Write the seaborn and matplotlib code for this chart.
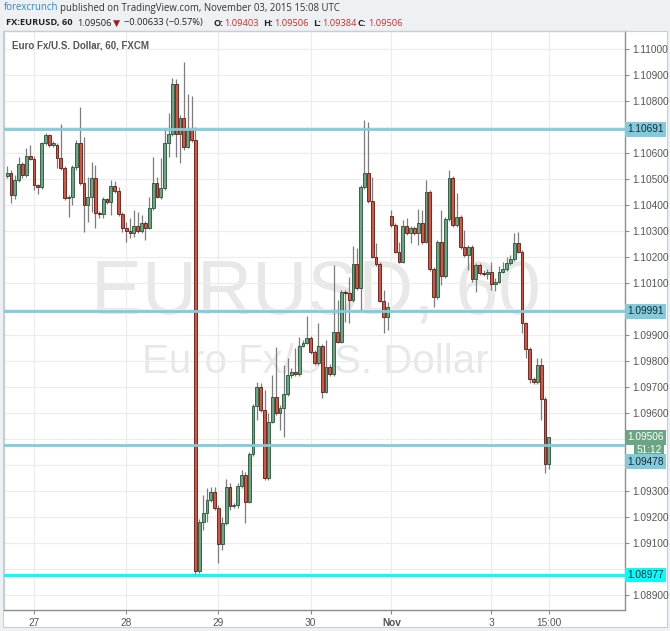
import numpy as np
import pandas as pd
import matplotlib
matplotlib.use("Agg")
import matplotlib.pyplot as plt
from matplotlib.patches import Rectangle
import seaborn as sns

# hourly EURUSD bars (FXCM), Oct 26 17:00 -> Oct 30 20:00, then Nov 1 22:00 -> Nov 3 15:00
opens = [
    1.10512, 1.10522, 1.10437, 1.10496, 1.10557, 1.10514, 1.10588, 1.10578, 1.10476, 1.10468,
    1.10637, 1.10669, 1.10631, 1.10630, 1.10580, 1.10541, 1.10426, 1.10430, 1.10545, 1.10640,
    1.10485, 1.10400, 1.10432, 1.10503, 1.10368, 1.10364, 1.10422, 1.10410, 1.10473, 1.10454,
    1.10364, 1.10313, 1.10300, 1.10291, 1.10319, 1.10300, 1.10330, 1.10313, 1.10387, 1.10486,
    1.10432, 1.10464, 1.10637, 1.10673, 1.10864, 1.10673, 1.10736, 1.10624, 1.10692, 1.10650,
    1.08994, 1.09182, 1.09214, 1.09265, 1.09295, 1.09233, 1.09095, 1.09176, 1.09314, 1.09244,
    1.09246, 1.09319, 1.09362, 1.09259, 1.09442, 1.09627, 1.09701, 1.09612, 1.09351, 1.09567,
    1.09663, 1.09599, 1.09618, 1.09672, 1.09746, 1.09759, 1.09750, 1.09859, 1.09870, 1.09887,
    1.09836, 1.09791, 1.09858, 1.09682, 1.09778, 1.09750, 1.09913, 1.09874, 1.10067, 1.10063,
    1.10035, 1.10173, 1.10080, 1.10468, 1.10524, 1.10417, 1.10201, 1.10173, 1.10032, 1.09970,
    1.10358, 1.10323, 1.10220, 1.10182, 1.10319, 1.10291, 1.10310, 1.10291, 1.10332, 1.10259,
    1.10449, 1.10153, 1.10045, 1.10259, 1.10127, 1.10345, 1.10503, 1.10323, 1.10353, 1.10237,
    1.10208, 1.10237, 1.10114, 1.10169, 1.10137, 1.10135, 1.10143, 1.10095, 1.10105, 1.10143,
    1.10153, 1.10176, 1.10191, 1.10253, 1.10220, 1.09945, 1.09846, 1.09731, 1.09718, 1.09785,
    1.09654, 1.09403,
]
closes = [
    1.10524, 1.10437, 1.10496, 1.10557, 1.10514, 1.10588, 1.10578, 1.10476, 1.10468, 1.10637,
    1.10669, 1.10631, 1.10637, 1.10582, 1.10541, 1.10426, 1.10430, 1.10545, 1.10640, 1.10485,
    1.10400, 1.10432, 1.10503, 1.10368, 1.10364, 1.10422, 1.10410, 1.10473, 1.10454, 1.10364,
    1.10313, 1.10300, 1.10291, 1.10319, 1.10300, 1.10330, 1.10313, 1.10387, 1.10486, 1.10432,
    1.10464, 1.10637, 1.10673, 1.10864, 1.10673, 1.10736, 1.10624, 1.10692, 1.10650, 1.08994,
    1.09182, 1.09214, 1.09265, 1.09295, 1.09233, 1.09095, 1.09176, 1.09314, 1.09244, 1.09246,
    1.09319, 1.09362, 1.09259, 1.09442, 1.09627, 1.09701, 1.09612, 1.09351, 1.09567, 1.09663,
    1.09599, 1.09618, 1.09672, 1.09746, 1.09759, 1.09750, 1.09859, 1.09870, 1.09887, 1.09836,
    1.09791, 1.09858, 1.09682, 1.09778, 1.09750, 1.09913, 1.09874, 1.10067, 1.10063, 1.10035,
    1.10173, 1.10080, 1.10468, 1.10524, 1.10417, 1.10201, 1.10173, 1.10032, 1.09970, 1.10007,
    1.10323, 1.10220, 1.10182, 1.10319, 1.10291, 1.10310, 1.10291, 1.10332, 1.10259, 1.10449,
    1.10153, 1.10045, 1.10259, 1.10127, 1.10345, 1.10503, 1.10323, 1.10353, 1.10237, 1.10208,
    1.10237, 1.10114, 1.10169, 1.10137, 1.10135, 1.10143, 1.10095, 1.10105, 1.10143, 1.10153,
    1.10176, 1.10191, 1.10253, 1.10220, 1.09945, 1.09846, 1.09731, 1.09718, 1.09785, 1.09654,
    1.09403, 1.09506,
]
highs = [
    1.10550, 1.10535, 1.10515, 1.10585, 1.10567, 1.10620, 1.10631, 1.10588, 1.10481, 1.10642,
    1.10677, 1.10673, 1.10646, 1.10638, 1.10710, 1.10550, 1.10438, 1.10554, 1.10650, 1.10778,
    1.10663, 1.10509, 1.10564, 1.10554, 1.10377, 1.10431, 1.10427, 1.10496, 1.10492, 1.10470,
    1.10373, 1.10336, 1.10349, 1.10381, 1.10374, 1.10362, 1.10338, 1.10432, 1.10586, 1.10509,
    1.10580, 1.10695, 1.10753, 1.10887, 1.10885, 1.10746, 1.10949, 1.10826, 1.10820, 1.10700,
    1.09192, 1.09285, 1.09310, 1.09317, 1.09317, 1.09246, 1.09201, 1.09346, 1.09330, 1.09254,
    1.09331, 1.09381, 1.09373, 1.09450, 1.09635, 1.09719, 1.09715, 1.09688, 1.09600, 1.09746,
    1.09855, 1.09631, 1.09785, 1.09812, 1.09773, 1.09849, 1.09893, 1.09881, 1.09973, 1.09896,
    1.09842, 1.09945, 1.09865, 1.09881, 1.09788, 1.10169, 1.10035, 1.10073, 1.10073, 1.10124,
    1.10242, 1.10233, 1.10477, 1.10727, 1.10720, 1.10509, 1.10253, 1.10181, 1.10073, 1.10028,
    1.10381, 1.10331, 1.10259, 1.10342, 1.10349, 1.10319, 1.10319, 1.10385, 1.10381, 1.10496,
    1.10458, 1.10162, 1.10265, 1.10381, 1.10354, 1.10535, 1.10512, 1.10445, 1.10362, 1.10304,
    1.10246, 1.10246, 1.10177, 1.10177, 1.10150, 1.10154, 1.10181, 1.10119, 1.10165, 1.10181,
    1.10201, 1.10208, 1.10291, 1.10297, 1.10227, 1.09950, 1.09854, 1.09738, 1.09810, 1.09810,
    1.09662, 1.09506,
]
lows = [
    1.10504, 1.10409, 1.10423, 1.10488, 1.10504, 1.10508, 1.10573, 1.10458, 1.10442, 1.10462,
    1.10631, 1.10623, 1.10623, 1.10541, 1.10535, 1.10419, 1.10354, 1.10400, 1.10535, 1.10477,
    1.10297, 1.10336, 1.10374, 1.10312, 1.10350, 1.10350, 1.10404, 1.10362, 1.10446, 1.10358,
    1.10297, 1.10259, 1.10272, 1.10278, 1.10292, 1.10292, 1.10265, 1.10308, 1.10381, 1.10427,
    1.10423, 1.10458, 1.10586, 1.10665, 1.10586, 1.10560, 1.10612, 1.10619, 1.10642, 1.08977,
    1.08985, 1.09150, 1.09182, 1.09258, 1.09227, 1.09024, 1.09073, 1.09169, 1.09227, 1.09235,
    1.09235, 1.09312, 1.09176, 1.09254, 1.09435, 1.09573, 1.09604, 1.09342, 1.09342, 1.09562,
    1.09592, 1.09535, 1.09509, 1.09665, 1.09735, 1.09742, 1.09742, 1.09854, 1.09865, 1.09827,
    1.09785, 1.09785, 1.09657, 1.09677, 1.09742, 1.09742, 1.09869, 1.09869, 1.09951, 1.09946,
    1.10027, 1.10073, 1.09996, 1.10462, 1.10408, 1.10196, 1.10165, 1.10027, 1.09907, 1.09919,
    1.10315, 1.10215, 1.10177, 1.10177, 1.10285, 1.10254, 1.10285, 1.10246, 1.10250, 1.10254,
    1.10146, 1.10009, 1.10038, 1.10092, 1.10119, 1.10338, 1.10315, 1.10315, 1.10231, 1.10200,
    1.10150, 1.10104, 1.10067, 1.10131, 1.10127, 1.10115, 1.10073, 1.10069, 1.10100, 1.10138,
    1.10146, 1.10169, 1.10185, 1.10215, 1.09907, 1.09810, 1.09715, 1.09712, 1.09712, 1.09573,
    1.09368, 1.09384,
]

times = pd.date_range("2015-10-26 17:00", "2015-10-30 20:00", freq="h").append(
    pd.date_range("2015-11-01 22:00", "2015-11-03 15:00", freq="h"))

tick_times = ["2015-10-27 00:00", "2015-10-28 00:00", "2015-10-29 00:00", "2015-10-30 00:00",
              "2015-11-01 22:00", "2015-11-03 00:00", "2015-11-03 15:00"]
tick_labels = ["27", "28", "29", "30", "Nov", "3", "15:00"]

price_ticks = [1.089, 1.090, 1.091, 1.092, 1.093, 1.094, 1.095, 1.096, 1.097, 1.098, 1.099,
               1.100, 1.101, 1.102, 1.103, 1.104, 1.105, 1.106, 1.107, 1.108, 1.109, 1.110]
# these labels sit under the price tags on the right
hidden_ticks = [1.090, 1.094, 1.095, 1.100, 1.107]

levels = [1.10691, 1.09991, 1.09478]
support = 1.08977
last_price = 1.09506
countdown = "51:12"

UP, DOWN = "#6ba583", "#d75442"
UP_EDGE, DOWN_EDGE = "#225437", "#5b1a13"
WICK = "#7d7d7f"
LEVEL = "#80cbdc"
CYAN = "#00ffff"

df = pd.DataFrame({"time": times, "open": opens, "high": highs, "low": lows, "close": closes})
df["x"] = np.arange(len(df))
df["up"] = df["close"] >= df["open"]

sns.set_style("white")
plt.rcParams["font.family"] = ["Liberation Sans", "DejaVu Sans"]

W, H = 670, 631
fig = plt.figure(figsize=(W / 100, H / 100), dpi=100)
fig.patch.set_facecolor("#eef1f4")


def fx(px):
    return px / W


def fy(py):
    return 1 - py / H


# white chart panel, behind the axes
fig.patches.append(Rectangle((fx(3), fy(627)), fx(667) - fx(3), fy(31) - fy(627),
                             transform=fig.transFigure, facecolor="white",
                             edgecolor="#c9ced2", lw=0.8, zorder=-10))

ax = fig.add_axes([fx(4), fy(610), fx(625) - fx(4), fy(31) - fy(610)])
ax.set_facecolor("white")

# watermark
ax.text(0.502, 0.545, "EURUSD, 60", transform=ax.transAxes, ha="center", va="center",
        fontsize=55, color="#e8e8e8", zorder=0.5)
ax.text(0.502, 0.428, "Euro Fx/U.S. Dollar", transform=ax.transAxes, ha="center", va="center",
        fontsize=29, color="#e8e8e8", zorder=0.5)

# candles
ax.vlines(df["x"], df["low"], df["high"], color=WICK, lw=0.9, zorder=2)
body_bottom = np.minimum(df["open"], df["close"])
body_height = np.maximum((df["close"] - df["open"]).abs(), 0.000012)
ax.bar(df["x"], body_height, bottom=body_bottom, width=0.74,
       color=np.where(df["up"], UP, DOWN), edgecolor=np.where(df["up"], UP_EDGE, DOWN_EDGE),
       linewidth=0.6, zorder=3)

# horizontal levels
for lv in levels:
    ax.axhline(lv, color=LEVEL, lw=2.0, zorder=4)
ax.axhline(support, color=CYAN, lw=2.2, zorder=4)

ax.set_xlim(-0.81, 160.8)
ax.set_ylim(1.088423, 1.110692)

tick_pos = [int(np.flatnonzero(df["time"] == pd.Timestamp(t))[0]) for t in tick_times]
ax.set_xticks(tick_pos)
ax.set_xticklabels(tick_labels)
for lab in ax.get_xticklabels():
    if lab.get_text() == "Nov":
        lab.set_fontweight("bold")
        lab.set_color("#333333")

ax.yaxis.tick_right()
ax.set_yticks(price_ticks)
ax.set_yticklabels(["" if any(abs(p - h) < 1e-9 for h in hidden_ticks) else f"{p:.5f}"
                    for p in price_ticks])
ax.tick_params(axis="both", direction="out", length=3, width=0.8, color="#8a8a8a",
               labelsize=7.3, labelcolor="#555555", pad=2)
ax.tick_params(axis="y", left=False, right=True)
ax.tick_params(axis="x", bottom=True, pad=3)

ax.grid(True, color="#ececec", lw=0.8)
ax.set_axisbelow(True)
for side, sp in ax.spines.items():
    sp.set_visible(True)
    sp.set_color("#8e8e8e" if side in ("right", "bottom") else "#c9ced2")
    sp.set_linewidth(1.0)


def price_tag(y, text, face, tcolor, x=1.0035, ha="left"):
    ax.text(x, y, text, transform=ax.get_yaxis_transform(), ha=ha, va="center",
            fontsize=7.3, color=tcolor, zorder=6, clip_on=False,
            bbox=dict(boxstyle="square,pad=0.22", facecolor=face, edgecolor="none"))


for lv in levels[:2]:
    price_tag(lv, f"{lv:.5f}", LEVEL, "#1f2a30")
price_tag(last_price, f"{last_price:.5f}", UP, "white")
price_tag(last_price - 0.0005, countdown, UP, "white", x=1.0585, ha="right")
price_tag(levels[2] - 0.00065, f"{levels[2]:.5f}", LEVEL, "#1f2a30")
price_tag(support, f"{support:.5f}", CYAN, "#1f2a30")

# legend line inside the chart
ax.text(0.013, 0.975, "Euro Fx/U.S. Dollar, 60, FXCM",
        transform=ax.transAxes, ha="left", va="center", fontsize=7, color="#555555",
        fontweight="bold", zorder=6)

# header
hdr = dict(fontsize=6.9, va="center", family=["Open Sans", "DejaVu Sans"])
fig.text(fx(4), fy(8), "forexcrunch", color="#2a87c8", **hdr)
fig.text(fx(60), fy(8), "published on TradingView.com, November 03, 2015 15:08 UTC",
         color="#333333", **hdr)

h2 = dict(fontsize=6.7, va="center", family=["Open Sans", "DejaVu Sans"])
red = "#c4302b"
fig.text(fx(6), fy(23), "FX:EURUSD, 60", color="#222222", fontweight="bold", **h2)
fig.text(fx(77), fy(23), "1.09506", color="#222222", **h2)
fig.text(fx(113), fy(23), "\u25bc", color="#a31f1a", fontsize=6.7, va="center",
         family="DejaVu Sans")
fig.text(fx(124), fy(23), "\u22120.00633 (\u22120.57%)", color="#222222", **h2)
for lx, key, vx, val in [(213, "O:", 224, "1.09403"), (263, "H:", 274, "1.09506"),
                         (313, "L:", 322, "1.09384"), (358, "C:", 368, "1.09506")]:
    fig.text(fx(lx), fy(23), key, color="#222222", fontweight="bold", **h2)
    fig.text(fx(vx), fy(23), val, color=red, **h2)

fig.savefig("out.png", dpi=100, facecolor=fig.get_facecolor())
